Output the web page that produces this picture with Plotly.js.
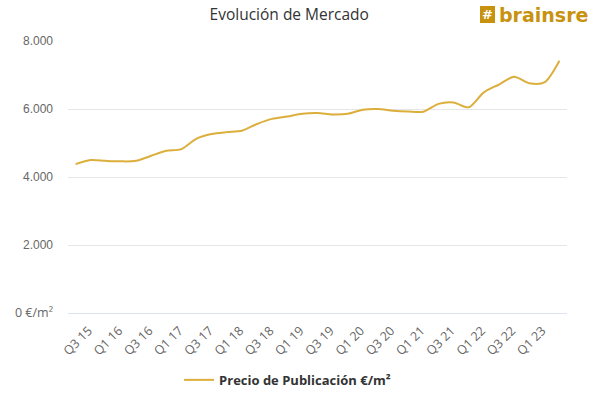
<!DOCTYPE html>
<html>
<head>
<meta charset="utf-8">
<script src="https://cdn.plot.ly/plotly-3.0.1.min.js"></script>
<style>html,body{margin:0;padding:0;background:#fff;}#chart{width:609px;height:394px;}</style>
</head>
<body>
<div id="chart"></div>
<script>
const quarters = ["Q3 15","Q4 15","Q1 16","Q2 16","Q3 16","Q4 16","Q1 17","Q2 17","Q3 17","Q4 17",
  "Q1 18","Q2 18","Q3 18","Q4 18","Q1 19","Q2 19","Q3 19","Q4 19","Q1 20","Q2 20",
  "Q3 20","Q4 20","Q1 21","Q2 21","Q3 21","Q4 21","Q1 22","Q2 22","Q3 22","Q4 22",
  "Q1 23","Q2 23","Q3 23"];
const precio = [4380,4500,4475,4460,4475,4625,4770,4820,5130,5265,
  5320,5360,5560,5710,5780,5860,5880,5840,5860,5980,
  6000,5950,5925,5920,6150,6190,6050,6490,6720,6950,
  6760,6780,7420];
const xTickLabels = ["Q3 15","Q1 16","Q3 16","Q1 17","Q3 17","Q1 18","Q3 18","Q1 19",
  "Q3 19","Q1 20","Q3 20","Q1 21","Q3 21","Q1 22","Q3 22","Q1 23"];
const yTickVals = [0, 2000, 4000, 6000, 8000];
const yTickText = ["<span style=\"font-family:'Open Sans';font-size:12.5px\">0 €/m²</span>", "2.000", "4.000", "6.000", "8.000"];
const seriesName = "Precio de Publicación €/m²";

const trace = {
  x: quarters,
  y: precio,
  type: "scatter",
  mode: "lines",
  name: seriesName,
  line: {color: "#dcae3b", width: 2, shape: "spline", smoothing: 0.8},
  hoverinfo: "x+y"
};

const layout = {
  width: 609, height: 394,
  margin: {l: 68, r: 42, t: 41, b: 81, autoexpand: false},
  paper_bgcolor: "#ffffff", plot_bgcolor: "#ffffff",
  title: {text: "Evolución de Mercado", x: 0.475, xanchor: "center", y: 0.964, yanchor: "middle",
          font: {family: "Open Sans", size: 15.5, color: "#333333"}},
  xaxis: {
    type: "category", automargin: false,
    tickmode: "array", tickvals: xTickLabels, ticktext: xTickLabels,
    tickangle: -45, ticklabelshift: 13, ticklabelstandoff: 7,
    tickfont: {family: "Open Sans", size: 12.5, color: "#666666"},
    showgrid: false, zeroline: false, showline: false, ticks: "",
    range: [-0.5, quarters.length - 0.5]
  },
  yaxis: {
    range: [0, 8000], automargin: false,
    tickmode: "array", tickvals: yTickVals, ticktext: yTickText,
    tickfont: {family: "Liberation Sans", size: 12, color: "#666666"},
    gridcolor: "#e6e6e6", gridwidth: 1, zeroline: true, zerolinecolor: "#dde3ee", zerolinewidth: 1,
    showline: false, ticks: "", ticklabelstandoff: 14
  },
  showlegend: true,
  legend: {orientation: "h", x: 0.44, xanchor: "center", y: -0.246, yanchor: "middle",
           font: {family: "Open Sans", size: 13, color: "#333333", weight: "bold"},
           itemwidth: 30},
  shapes: [
    {type: "rect", xref: "paper", yref: "paper", x0: (480-68)/499, x1: (495-68)/499,
     y0: (313-23)/272, y1: (313-6)/272, fillcolor: "#c8920f", line: {width: 0}}
  ],
  annotations: [
    {xref: "paper", yref: "paper", x: (487.5-68)/499, y: (313-14.5)/272, text: "#",
     showarrow: false, font: {family: "DejaVu Sans", size: 13, color: "#ffffff", weight: "bold"},
     xanchor: "center", yanchor: "middle"},
    {xref: "paper", yref: "paper", x: (497-68)/499, y: (313-15)/272, text: "brainsre",
     showarrow: false, font: {family: "DejaVu Sans", size: 19, color: "#c8920f", weight: "bold"},
     xanchor: "left", yanchor: "middle"}
  ]
};

Plotly.newPlot("chart", [trace], layout, {displayModeBar: false, staticPlot: true});
</script>
</body>
</html>
